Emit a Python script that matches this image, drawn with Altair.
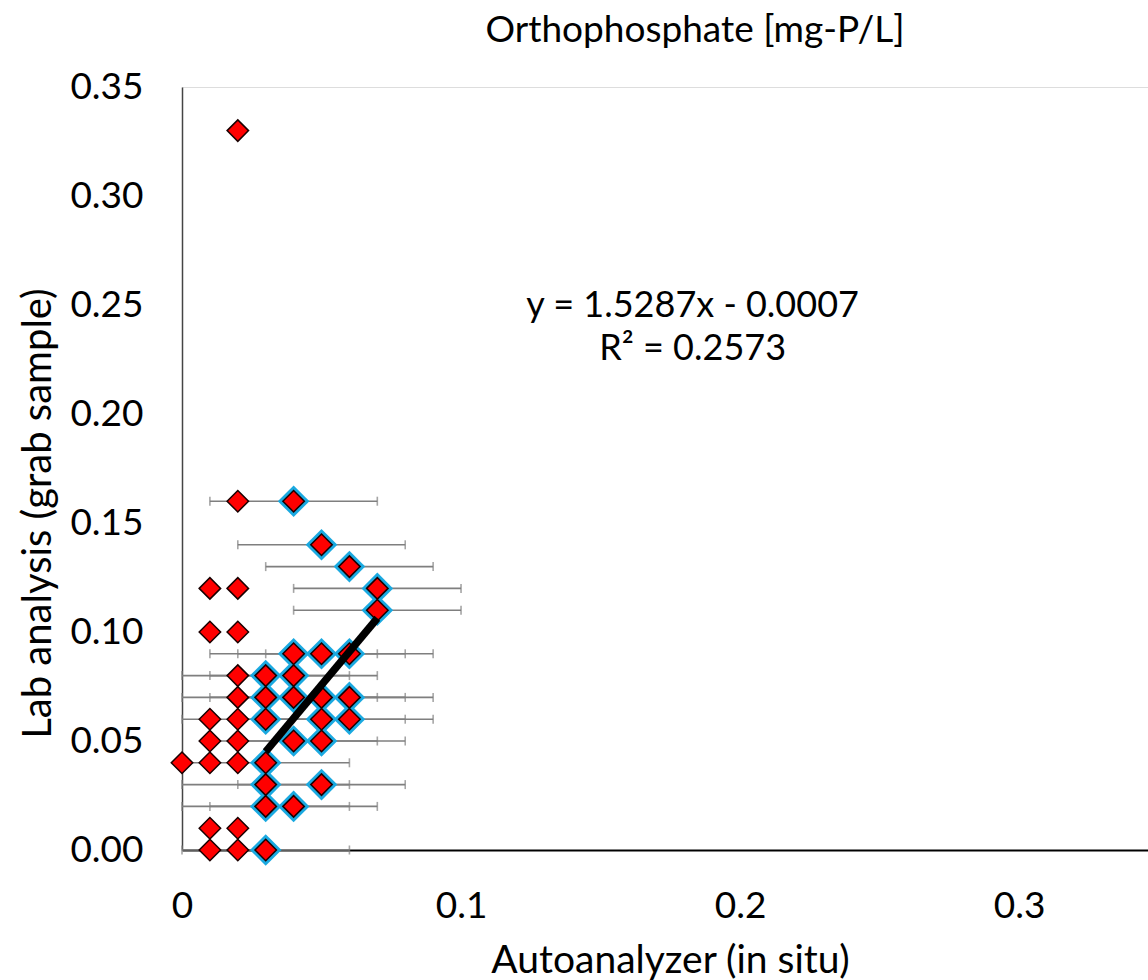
import altair as alt
import pandas as pd

FONT = "Lato"

# red-only markers (lab vs autoanalyzer)
red_x = [0.02, 0.02, 0.01, 0.02, 0.01, 0.02, 0.02, 0.02, 0.01, 0.02,
         0.01, 0.02, 0.00, 0.01, 0.02, 0.01, 0.02, 0.01, 0.02]
red_y = [0.33, 0.16, 0.12, 0.12, 0.10, 0.10, 0.08, 0.07, 0.06, 0.06,
         0.05, 0.05, 0.04, 0.04, 0.04, 0.01, 0.01, 0.00, 0.00]

# highlighted markers (blue outline) with horizontal error bars
blue_x = [0.04, 0.05, 0.06, 0.07, 0.07, 0.04, 0.05, 0.06, 0.03, 0.04,
          0.03, 0.04, 0.05, 0.06, 0.03, 0.05, 0.06, 0.04, 0.05, 0.03,
          0.03, 0.05, 0.03, 0.04, 0.03]
blue_y = [0.16, 0.14, 0.13, 0.12, 0.11, 0.09, 0.09, 0.09, 0.08, 0.08,
          0.07, 0.07, 0.07, 0.07, 0.06, 0.06, 0.06, 0.05, 0.05, 0.04,
          0.03, 0.03, 0.02, 0.02, 0.00]
blue_xerr = [0.03, 0.03, 0.03, 0.03, 0.03, 0.03, 0.03, 0.03, 0.03, 0.03,
             0.03, 0.03, 0.03, 0.03, 0.03, 0.03, 0.03, 0.03, 0.03, 0.03,
             0.03, 0.03, 0.03, 0.03, 0.03]

# linear trendline (fitted on highlighted series)
trend_x = [0.03, 0.07]
slope = 1.5287
intercept = -0.0007

x_ticks = [0, 0.1, 0.2, 0.3]
y_ticks = [0, 0.05, 0.10, 0.15, 0.20, 0.25, 0.30, 0.35]

eq_lines = ["y = 1.5287x - 0.0007", "R² = 0.2573"]
eq_x = [0.183, 0.183]
eq_y = [0.2445, 0.2248]

blue_df = pd.DataFrame({"x": blue_x, "y": blue_y, "err": blue_xerr})
all_df = pd.DataFrame({"x": red_x + blue_x, "y": red_y + blue_y})
trend_df = pd.DataFrame({"x": trend_x})
eq_df = pd.DataFrame({"t": eq_lines, "x": eq_x, "y": eq_y})

xscale = alt.Scale(domain=[0, 0.3462], nice=False, zero=False)
yscale = alt.Scale(domain=[0, 0.35], nice=False)

xaxis = alt.Axis(values=x_ticks, labelExpr="datum.value == 0 ? '0' : format(datum.value, '.1f')",
                 ticks=False, tickSize=0, grid=False, domainColor="#000000", domainWidth=2,
                 labelFont=FONT, labelFontSize=37, labelColor="#000000", labelPadding=38,
                 labelFlush=False, labelOverlap=False,
                 title="Autoanalyzer (in situ)", titleFont=FONT, titleFontSize=39,
                 titleFontWeight="normal", titleColor="#000000", titleX=488, titleY=122,
                 titleBaseline="alphabetic", titleAlign="center")
yaxis = alt.Axis(values=y_ticks, format=".2f", ticks=False, tickSize=0, grid=False,
                 domainColor="#444444", domainWidth=1.5,
                 labelFont=FONT, labelFontSize=37, labelColor="#000000", labelPadding=39,
                 labelFlush=False, labelOverlap=False,
                 title="Lab analysis (grab sample)", titleFont=FONT, titleFontSize=40,
                 titleFontWeight="normal", titleColor="#000000", titleX=-132, titleY=426,
                 titleBaseline="alphabetic", titleAlign="center", titleAngle=-90)

base_blue = alt.Chart(blue_df).transform_calculate(
    lo="datum.x - datum.err", hi="datum.x + datum.err"
)

err_rule = base_blue.mark_rule(color="#7f7f7f", strokeWidth=1.6).encode(
    x=alt.X("lo:Q", scale=xscale, axis=xaxis),
    x2="hi:Q",
    y=alt.Y("y:Q", scale=yscale, axis=yaxis),
)
cap_lo = base_blue.mark_tick(color="#7f7f7f", thickness=1.6, size=9, orient="vertical").encode(
    x=alt.X("lo:Q", scale=xscale), y=alt.Y("y:Q", scale=yscale)
)
cap_hi = base_blue.mark_tick(color="#7f7f7f", thickness=1.6, size=9, orient="vertical").encode(
    x=alt.X("hi:Q", scale=xscale), y=alt.Y("y:Q", scale=yscale)
)

blue_pts = alt.Chart(blue_df).mark_point(
    shape="diamond", filled=True, fill="#1aa9e0", opacity=1, size=1000, strokeWidth=0
).encode(x=alt.X("x:Q", scale=xscale), y=alt.Y("y:Q", scale=yscale))

red_pts = alt.Chart(all_df).mark_point(
    shape="diamond", filled=True, fill="#ff0000", stroke="#1a0000", strokeWidth=1.5,
    opacity=1, size=460
).encode(x=alt.X("x:Q", scale=xscale), y=alt.Y("y:Q", scale=yscale))

trend = alt.Chart(trend_df).transform_calculate(
    ty=f"{slope} * datum.x + ({intercept})"
).mark_line(color="#000000", strokeWidth=7.5, strokeCap="butt").encode(
    x=alt.X("x:Q", scale=xscale), y=alt.Y("ty:Q", scale=yscale)
)

eq = alt.Chart(eq_df).mark_text(
    font=FONT, fontSize=36, color="#000000", align="center", baseline="alphabetic"
).encode(x=alt.X("x:Q", scale=xscale), y=alt.Y("y:Q", scale=yscale), text="t:N")

chart = alt.layer(err_rule, cap_lo, cap_hi, blue_pts, red_pts, trend, eq).properties(
    width=966, height=763,
    padding={"left": 182, "top": 87, "right": 0, "bottom": 130},
    autosize="none",
    title=alt.TitleParams("Orthophosphate [mg-P/L]", font=FONT, fontSize=37,
                          fontWeight="normal", color="#000000", anchor="middle",
                          frame="group", dx=30, offset=-11, baseline="alphabetic"),
).configure_view(stroke=None).configure(background="#ffffff")

chart.save("out.html", embed_options={"renderer": "svg", "actions": False})
